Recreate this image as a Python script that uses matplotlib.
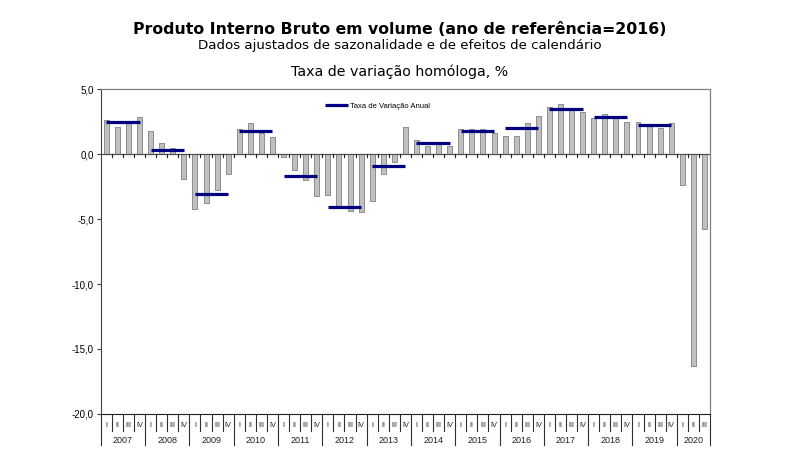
"""GDP in volume, year-on-year rate of change, quarterly bars with annual rate."""
import matplotlib
matplotlib.use("Agg")
import matplotlib.pyplot as plt
import numpy as np

years = list(range(2007, 2021))
quarter_names = ["I", "II", "III", "IV"]

# year-on-year rate, % (2007Q1 .. 2020Q3)
yoy_rate = [
    2.65, 2.1, 2.45, 2.85,      # 2007
    1.8, 0.85, 0.5, -1.9,       # 2008
    -4.25, -3.8, -2.75, -1.5,   # 2009
    1.95, 2.35, 1.6, 1.3,       # 2010
    -0.2, -1.2, -2.0, -3.25,    # 2011
    -3.15, -4.1, -4.4, -4.45,   # 2012
    -3.6, -1.5, -0.6, 2.1,      # 2013
    1.1, 0.65, 0.75, 0.65,      # 2014
    1.95, 1.95, 1.9, 1.6,       # 2015
    1.4, 1.4, 2.4, 2.9,         # 2016
    3.6, 3.85, 3.35, 3.25,      # 2017
    2.8, 3.1, 2.75, 2.5,        # 2018
    2.5, 2.15, 2.0, 2.35,       # 2019
    -2.4, -16.3, -5.75,         # 2020
]
# annual rate, % (2007 .. 2019)
annual_years = list(range(2007, 2020))
annual_rate = [2.5, 0.3, -3.1, 1.75, -1.7, -4.05, -0.9, 0.85, 1.8, 2.0, 3.5, 2.85, 2.2]

BAR_FACE = "#c0c0c0"
BAR_EDGE = "#8c8c8c"
NAVY = "#000080"

plt.rcParams.update({
    "font.family": ["Liberation Sans", "DejaVu Sans"],
})

fig = plt.figure(figsize=(8.0, 4.74), dpi=100)
ax = fig.add_axes([0.126, 0.1266, 0.7615, 0.6856])

n = len(yoy_rate)
x = np.arange(n)
ax.bar(x, yoy_rate, width=0.45, color=BAR_FACE, edgecolor=BAR_EDGE, linewidth=0.7, zorder=2)

# annual rate: flat segment from Q1 to Q4 of each year
for i, (yr, val) in enumerate(zip(annual_years, annual_rate)):
    start = (yr - years[0]) * 4
    ax.plot([start, start + 3], [val, val], color=NAVY, linewidth=2.3,
            solid_capstyle="butt", zorder=3,
            label="Taxa de Variação Anual" if i == 0 else None)

ax.set_xlim(-0.5, n - 0.5)
ax.set_ylim(-20, 5)
ax.set_yticks([5, 0, -5, -10, -15, -20])
ax.set_yticklabels(["5,0", "0,0", "-5,0", "-10,0", "-15,0", "-20,0"])
ax.tick_params(axis="y", labelsize=7, length=3, width=0.8, color="#404040", pad=2)
ax.set_xticks([])

for side in ("top", "right"):
    ax.spines[side].set_color("#808080")
    ax.spines[side].set_linewidth(0.9)
ax.spines["left"].set_color("#404040")
ax.spines["bottom"].set_color("#202020")

# zero line with small ticks at quarter boundaries
ax.axhline(0, color="#505050", linewidth=0.9, zorder=4)
for b in np.arange(0.5, n - 0.5, 1.0):
    ax.plot([b, b], [0, -0.25], color="#202020", linewidth=0.8, zorder=4)

# category axis below the plot: quarters and years
xt = ax.get_xaxis_transform()
for i in range(n):
    ax.text(i, -0.034, quarter_names[i % 4], transform=xt, ha="center", va="center",
            fontsize=5.3, color="#202020")
for b in range(n + 1):
    pos = b - 0.5
    y_end = -0.095 if b % 4 == 0 or b == n else -0.052
    ax.plot([pos, pos], [0, y_end], transform=xt, color="#303030",
            linewidth=0.8, clip_on=False)
for k, yr in enumerate(years):
    first = k * 4
    last = min(first + 3, n - 1)
    ax.text((first + last) / 2, -0.083, str(yr), transform=xt, ha="center",
            va="center", fontsize=6.5, color="#202020")

ax.legend(loc="upper left", bbox_to_anchor=(0.36, 0.975), frameon=False,
          fontsize=5.5, handlelength=3, handletextpad=0.2, borderpad=0.2)

fig.text(0.5, 0.938, "Produto Interno Bruto em volume (ano de referência=2016)",
         ha="center", va="center", fontsize=11.3, fontweight="bold", family="DejaVu Sans")
fig.text(0.5, 0.903, "Dados ajustados de sazonalidade e de efeitos de calendário",
         ha="center", va="center", fontsize=9.6, family="DejaVu Sans")
fig.text(0.5, 0.848, "Taxa de variação homóloga, %",
         ha="center", va="center", fontsize=10.2, family="DejaVu Sans")

fig.savefig("out.png", dpi=100)
